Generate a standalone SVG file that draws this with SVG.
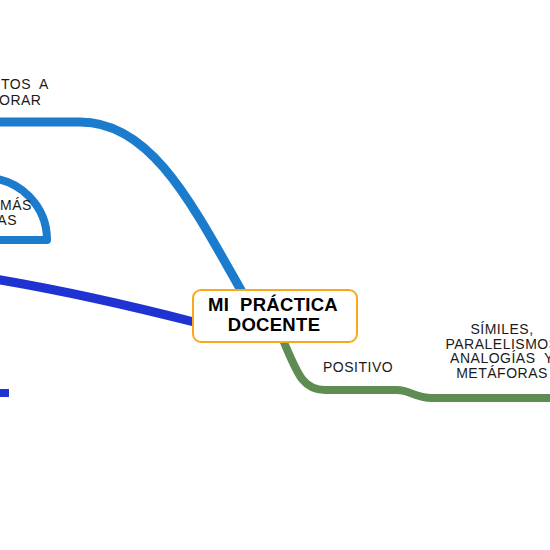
<svg xmlns="http://www.w3.org/2000/svg" width="550" height="550" viewBox="0 0 550 550">
<style>
text{white-space:pre}
.t{font-family:"Liberation Sans",Arial,sans-serif;font-size:14px;letter-spacing:0.5px;fill:#1a1a1a}
.b{font-family:"Liberation Sans",Arial,sans-serif;font-size:18.5px;letter-spacing:0.3px;font-weight:bold;fill:#000;text-anchor:middle}
.c{fill:none;stroke-linecap:butt;stroke-linejoin:round}
</style>
<rect width="550" height="550" fill="#fff"/>
<g id="connectors">
<path class="c" d="M 242 292 C 190 200, 150 122, 80 122 L -5 122" stroke="#1B7BCD" stroke-width="9"/>
<path class="c" d="M -15 178 A 62 62 0 0 1 47 240 L -5 240" stroke="#1B7BCD" stroke-width="8"/>
<path class="c" d="M -5 279 C 60 290, 120 303, 194 322" stroke="#1F33D3" stroke-width="9"/>
<path class="c" d="M 0 393 L 9 393" stroke="#1F33D3" stroke-width="8"/>
<path class="c" d="M 283 340 C 297 372, 302 390, 325 390 L 397 390 C 410 390, 415 398, 432 398 L 555 398" stroke="#5E8C52" stroke-width="8"/>
</g>
<g id="node-top-left">
<text class="t" x="1" y="89" xml:space="preserve">TOS  A</text>
<text class="t" x="-1" y="105">ORAR</text>
</g>
<g id="node-left-arc">
<text class="t" x="0" y="210">MÁS</text>
<text class="t" x="17" y="225" text-anchor="end">AS</text>
</g>
<g id="node-center">
<rect x="193" y="290" width="164" height="52" rx="8" fill="#fff" stroke="#F9A81B" stroke-width="2"/>
<text class="b" x="273" y="311" xml:space="preserve">MI  PRÁCTICA</text>
<text class="b" x="274" y="331">DOCENTE</text>
</g>
<g id="node-positivo">
<text class="t" x="323" y="372">POSITIVO</text>
</g>
<g id="node-similes">
<text class="t" x="502" y="334" text-anchor="middle">SÍMILES,</text>
<text class="t" x="502" y="348.5" text-anchor="middle">PARALELISMOS</text>
<text class="t" x="502" y="363" text-anchor="middle" xml:space="preserve">ANALOGÍAS  Y</text>
<text class="t" x="502" y="377.5" text-anchor="middle">METÁFORAS</text>
</g>
</svg>
